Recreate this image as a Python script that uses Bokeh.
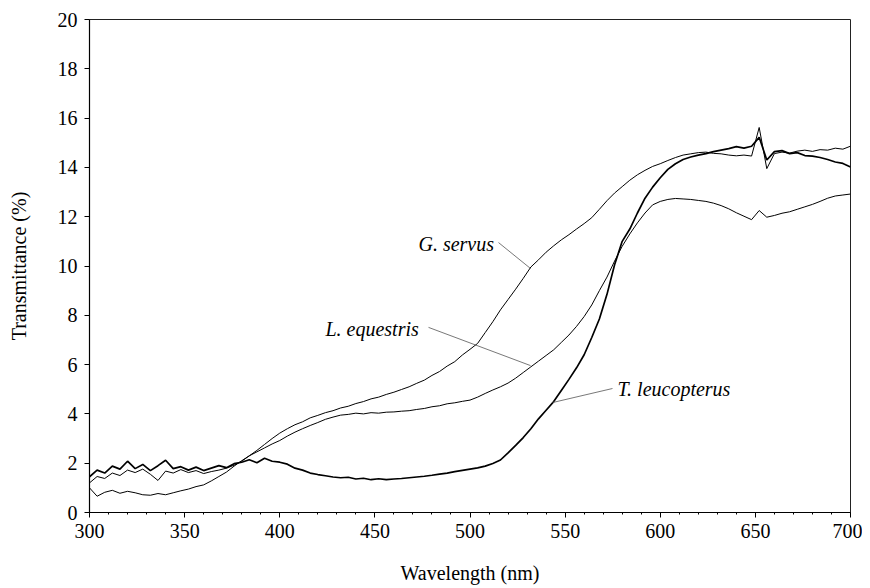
from bokeh.plotting import figure
from bokeh.models import Range1d, FixedTicker, ColumnDataSource
from bokeh.core.properties import value
from bokeh.embed import file_html
from bokeh.resources import INLINE

wavelength = list(range(300, 701, 4))

t_leucopterus = [
    1.45, 1.72, 1.60, 1.88, 1.76, 2.08, 1.78, 1.95, 1.70, 1.90,
    2.12, 1.78, 1.86, 1.72, 1.84, 1.70, 1.80, 1.90, 1.82, 1.98,
    2.04, 2.14, 2.02, 2.20, 2.08, 2.04, 1.96, 1.80, 1.72, 1.60,
    1.54, 1.49, 1.44, 1.41, 1.43, 1.36, 1.39, 1.33, 1.37, 1.33,
    1.36, 1.38, 1.41, 1.44, 1.47, 1.51, 1.56, 1.60, 1.66, 1.71,
    1.76, 1.81, 1.88, 1.99, 2.13, 2.42, 2.72, 3.04, 3.40, 3.80,
    4.15, 4.50, 4.95, 5.40, 5.87, 6.40, 7.10, 7.85, 8.85, 10.05,
    11.00, 11.50, 12.15, 12.75, 13.20, 13.58, 13.92, 14.15, 14.32, 14.42,
    14.50, 14.56, 14.64, 14.70, 14.76, 14.84, 14.78, 14.86, 15.22, 14.30,
    14.64, 14.68, 14.56, 14.60, 14.48, 14.46, 14.40, 14.32, 14.22, 14.16,
    14.02,
]

g_servus = [
    1.20, 1.46, 1.38, 1.60, 1.50, 1.72, 1.62, 1.76, 1.55, 1.30,
    1.68, 1.60, 1.74, 1.62, 1.70, 1.58, 1.66, 1.72, 1.80, 1.92,
    2.08, 2.30, 2.52, 2.76, 3.00, 3.22, 3.40, 3.56, 3.68, 3.84,
    3.94, 4.05, 4.13, 4.24, 4.31, 4.42, 4.50, 4.61, 4.68, 4.79,
    4.88, 4.99, 5.10, 5.24, 5.37, 5.56, 5.72, 5.94, 6.12, 6.39,
    6.62, 6.86, 7.30, 7.74, 8.22, 8.64, 9.06, 9.50, 9.96, 10.25,
    10.56, 10.82, 11.06, 11.27, 11.50, 11.72, 11.96, 12.30, 12.65, 12.96,
    13.22, 13.48, 13.70, 13.88, 14.04, 14.15, 14.28, 14.40, 14.50, 14.55,
    14.60, 14.62, 14.57, 14.55, 14.50, 14.47, 14.50, 14.46, 15.62, 13.95,
    14.56, 14.62, 14.58, 14.66, 14.70, 14.65, 14.72, 14.70, 14.78, 14.74,
    14.86,
]

l_equestris = [
    1.00, 0.66, 0.82, 0.90, 0.78, 0.86, 0.80, 0.72, 0.70, 0.77,
    0.72, 0.80, 0.88, 0.95, 1.05, 1.12, 1.28, 1.46, 1.64, 1.88,
    2.10, 2.30, 2.46, 2.62, 2.78, 2.92, 3.10, 3.26, 3.40, 3.53,
    3.65, 3.78, 3.87, 3.95, 3.98, 4.03, 4.00, 4.05, 4.03, 4.07,
    4.08, 4.11, 4.13, 4.18, 4.22, 4.29, 4.33, 4.41, 4.45, 4.51,
    4.56, 4.68, 4.83, 4.97, 5.10, 5.25, 5.45, 5.68, 5.91, 6.14,
    6.37, 6.60, 6.90, 7.20, 7.55, 7.95, 8.42, 9.00, 9.55, 10.20,
    10.80, 11.30, 11.75, 12.15, 12.48, 12.62, 12.70, 12.74, 12.72, 12.70,
    12.66, 12.62, 12.55, 12.45, 12.32, 12.16, 12.02, 11.88, 12.25, 11.98,
    12.05, 12.14, 12.20, 12.30, 12.40, 12.50, 12.62, 12.75, 12.84, 12.88,
    12.92,
]

assert len(t_leucopterus) == len(wavelength)
assert len(g_servus) == len(wavelength)
assert len(l_equestris) == len(wavelength)

x_ticks = [300, 350, 400, 450, 500, 550, 600, 650, 700]
x_minor = list(range(300, 701, 10))
y_ticks = [0, 2, 4, 6, 8, 10, 12, 14, 16, 18, 20]

label_text = ["G. servus", "L. equestris", "T. leucopterus"]
label_x = [472.9, 424.0, 577.5]
label_y = [10.91, 7.46, 5.03]
leader_x0 = [515.0, 478.2, 543.4]
leader_y0 = [10.95, 7.51, 4.46]
leader_x1 = [531.8, 531.8, 574.9]
leader_y1 = [9.90, 5.96, 5.03]

FONT = "Liberation Serif"

p = figure(width=862, height=586, output_backend="svg", toolbar_location=None,
           x_range=Range1d(300, 700), y_range=Range1d(0, 20),
           min_border_left=89, min_border_right=12, min_border_top=19,
           min_border_bottom=74)
p.background_fill_color = "white"
p.border_fill_color = "white"
p.outline_line_color = "#222222"
p.outline_line_width = 1
p.xgrid.visible = False
p.ygrid.visible = False

p.line(wavelength, l_equestris, line_color="black", line_width=1.0)
p.line(wavelength, g_servus, line_color="black", line_width=1.0)
p.line(wavelength, t_leucopterus, line_color="black", line_width=1.7)

p.segment(x0=leader_x0, y0=leader_y0, x1=leader_x1, y1=leader_y1,
          line_color="#555555", line_width=0.8)
src = ColumnDataSource(dict(x=label_x, y=label_y, t=label_text))
p.text(x="x", y="y", text="t", source=src, text_font=value(FONT),
       text_font_size="20px", text_font_style="italic", text_color="black",
       text_align="left", text_baseline="middle")

p.xaxis.ticker = FixedTicker(ticks=x_ticks, minor_ticks=x_minor)
p.yaxis.ticker = FixedTicker(ticks=y_ticks, minor_ticks=[])
p.xaxis.axis_label = "Wavelength (nm)"
p.yaxis.axis_label = "Transmittance (%)"
for ax in (p.xaxis, p.yaxis):
    ax.axis_label_text_font = FONT
    ax.axis_label_text_font_size = "20px"
    ax.axis_label_text_font_style = "normal"
    ax.axis_label_text_color = "black"
    ax.major_label_text_font = FONT
    ax.major_label_text_font_size = "20px"
    ax.major_label_text_color = "black"
    ax.axis_line_color = "black"
    ax.axis_line_width = 1.2
    ax.major_tick_line_color = "black"
    ax.minor_tick_line_color = "black"
    ax.major_tick_in = 0
    ax.minor_tick_in = 0
p.xaxis.major_tick_out = 5
p.xaxis.minor_tick_out = 2
p.yaxis.major_tick_out = 5
p.xaxis.major_label_standoff = 6
p.yaxis.major_label_standoff = 7
p.xaxis.axis_label_standoff = 21
p.yaxis.axis_label_standoff = 25

open("out.html", "w").write(file_html(p, INLINE))
